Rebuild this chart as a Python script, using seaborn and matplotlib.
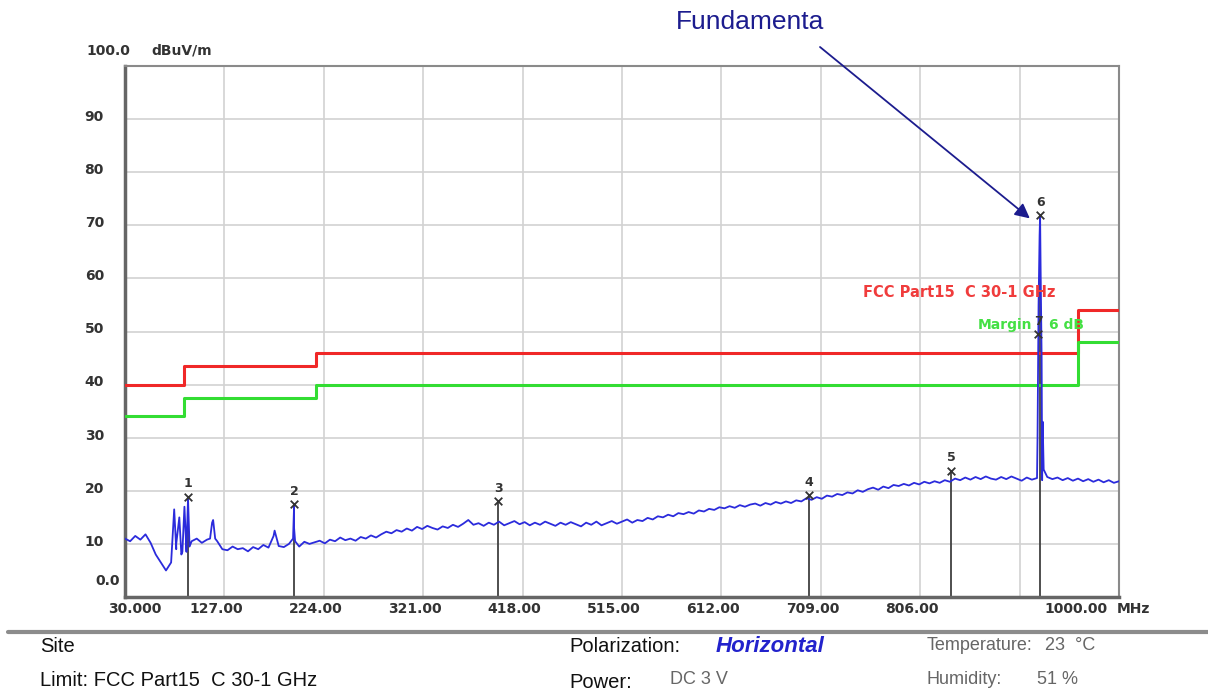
import numpy as np
import pandas as pd
import matplotlib
matplotlib.use("Agg")
import matplotlib.pyplot as plt
import seaborn as sns
from matplotlib.lines import Line2D

# ---------------- data ----------------
trace_freq = list(range(30, 1001, 5))
trace_level = [
    11.0, 10.5, 11.5, 10.8, 11.8, 10.2, 8.0, 6.5, 5.0, 6.5,
    9.0, 8.0, 8.5, 10.5, 11.0, 10.2, 10.8, 14.0, 10.5, 9.0,
    8.8, 9.5, 9.0, 9.2, 8.6, 9.4, 9.0, 9.8, 9.3, 11.5,
    9.6, 9.4, 10.0, 13.0, 9.5, 10.4, 10.0, 10.3, 10.6, 10.1,
    10.8, 10.5, 11.2, 10.7, 11.0, 10.6, 11.3, 11.0, 11.6, 11.2,
    11.8, 12.3, 12.0, 12.6, 12.3, 12.9, 12.5, 13.2, 12.8, 13.4,
    13.0, 12.7, 13.3, 13.0, 13.6, 13.2, 13.8, 14.5, 13.6, 13.9,
    13.4, 14.0, 13.6, 14.2, 13.5, 13.9, 14.3, 13.7, 14.1, 13.5,
    14.0, 13.6, 14.2, 13.8, 13.4, 14.0, 13.6, 14.1, 13.7, 13.3,
    14.0, 13.6, 14.2, 13.5, 13.9, 14.3, 13.8, 14.2, 14.6, 14.0,
    14.5, 14.3, 14.9, 14.6, 15.2, 15.0, 15.5, 15.2, 15.8, 15.6,
    16.0, 15.7, 16.3, 16.1, 16.6, 16.4, 16.9, 16.7, 17.1, 16.8,
    17.3, 17.0, 17.4, 17.6, 17.2, 17.7, 17.4, 17.9, 17.6, 18.0,
    17.7, 18.2, 18.0, 18.6, 18.3, 18.8, 18.5, 19.1, 18.9, 19.4,
    19.2, 19.7, 19.5, 20.1, 19.8, 20.3, 20.6, 20.2, 20.8, 20.5,
    21.1, 20.9, 21.3, 21.0, 21.5, 21.2, 21.7, 21.4, 21.8, 21.5,
    22.0, 21.7, 22.3, 22.0, 22.5, 22.1, 22.6, 22.2, 22.7, 22.3,
    22.1, 22.6, 22.2, 22.7, 22.3, 21.9, 22.5, 22.1, 22.4, 22.0,
    22.6, 22.2, 22.5, 22.0, 22.4, 21.9, 22.3, 21.8, 22.2, 21.7,
    22.1, 21.6, 22.0, 21.5, 21.8,
]
spike_freq = [78, 80, 83, 86, 88, 90, 91.5, 93, 113, 116, 118, 176, 194, 195, 196,
              920.5, 921.5, 922.5, 923, 923.5, 924.5, 925.5, 926.5]
spike_level = [16.5, 10.0, 15.0, 8.5, 17.0, 9.0, 18.5, 9.5, 11.0, 14.5, 11.0, 12.5, 11.0, 17.2, 10.5,
               30.0, 55.0, 68.0, 71.9, 62.0, 45.0, 33.0, 24.0]

limit_freq = [30, 88, 216, 960, 1000]
limit_level = [40, 43.5, 46, 54, 54]
margin_db = 6
margin_level = [v - margin_db for v in limit_level]

marker_id = ["1", "2", "3", "4", "5", "6", "7"]
marker_freq = [91.5, 195, 394, 697, 836, 923, 921]
marker_level = [18.9, 17.5, 18.1, 19.2, 23.8, 71.9, 49.5]

yticks = [10, 20, 30, 40, 50, 60, 70, 80, 90]
xticks = [127, 224, 321, 418, 515, 612, 709, 806, 903]
xlabels = ["30.000", "127.00", "224.00", "321.00", "418.00", "515.00",
           "612.00", "709.00", "806.00", "1000.00"]
xlabel_pos = [40, 119, 216, 313, 410, 507, 604, 701, 798, 958]

# ---------------- figure ----------------
sns.set_theme(style="white")
plt.rcParams['font.family'] = ['DejaVu Sans']

W, H = 1208, 695
fig = plt.figure(figsize=(W / 100, H / 100), dpi=100)
ax = fig.add_axes([125 / W, 1 - 597 / H, (1119 - 125) / W, (597 - 66) / H])

trace = pd.DataFrame({"freq": trace_freq + spike_freq, "level": trace_level + spike_level})
trace = trace.sort_values("freq").reset_index(drop=True)

limits = pd.DataFrame({"freq": limit_freq, "limit": limit_level, "margin": margin_level})

# grid
for x in xticks:
    ax.axvline(x, color="#d2d2d2", lw=1.2, zorder=0)
for y in yticks:
    ax.axhline(y, color="#d2d2d2", lw=1.2, zorder=0)

# limit lines
sns.lineplot(data=limits, x="freq", y="limit", ax=ax, color="#f02828", lw=2.2,
             drawstyle="steps-post", estimator=None, sort=False, zorder=3)
sns.lineplot(data=limits, x="freq", y="margin", ax=ax, color="#33dd33", lw=2.2,
             drawstyle="steps-post", estimator=None, sort=False, zorder=3)

# marker vertical lines
ax.vlines(marker_freq[:6], 0, marker_level[:6], color="#404040", lw=1.3, zorder=2)

# trace
sns.lineplot(data=trace, x="freq", y="level", ax=ax, color="#2b2bdc", lw=1.3,
             estimator=None, sort=False, zorder=4)

# markers
ax.scatter(marker_freq, marker_level, marker="x", s=30, color="#333333", lw=1.3, zorder=6)
for lab, f, lv in zip(marker_id, marker_freq, marker_level):
    ax.text(f, lv + 1.2, lab, ha="center", va="bottom", fontsize=9, color="#333333",
            fontweight="bold", zorder=6)

# limit labels
ax.text(750, 57.4, "FCC Part15  C 30-1 GHz", color="#f03c3c", fontsize=10.5,
        fontweight="bold", va="center", ha="left", zorder=5)
ax.text(862, 51.3, "Margin", color="#44e044", fontsize=10,
        fontweight="bold", va="center", ha="left", zorder=5)
ax.text(932, 51.3, "6 dB", color="#44e044", fontsize=10,
        fontweight="bold", va="center", ha="left", zorder=5)

ax.set_xlim(30, 1000)
ax.set_ylim(0, 100)
ax.set_xticks([])
ax.set_yticks([])
ax.set_xlabel("")
ax.set_ylabel("")
for s in ax.spines.values():
    s.set_color("#8a8a8a")
    s.set_linewidth(1.5)
ax.spines["left"].set_linewidth(2.5)
ax.spines["bottom"].set_linewidth(2.5)
ax.spines["left"].set_color("#666666")
ax.spines["bottom"].set_color("#666666")

# tick labels as text
tick_kw = dict(fontsize=10, fontweight="bold", color="#333333")
for y in yticks:
    ax.text(9.5, y + 0.4, str(y), ha="right", va="center", clip_on=False, **tick_kw)
ax.text(25, 3.0, "0.0", ha="right", va="center", clip_on=False, **tick_kw)
fig.text(108 / W, 1 - 51 / H, "100.0", ha="center", va="center", **tick_kw)
fig.text(182 / W, 1 - 51 / H, "dBuV/m", ha="center", va="center", **tick_kw)
for lab, xp in zip(xlabels, xlabel_pos):
    ax.text(xp, -2.3, lab, ha="center", va="center", clip_on=False, **tick_kw)
ax.text(1014.5, -2.3, "MHz", ha="center", va="center", clip_on=False, **tick_kw)

# annotation
navy = "#1c1c8e"
fig.text(750 / W, 1 - 22 / H, "Fundamenta", ha="center", va="center", color=navy,
         fontsize=19, family=["Liberation Sans", "DejaVu Sans"])
ax.annotate("", xy=(913, 71.3), xycoords="data",
            xytext=(820 / W, 1 - 47 / H), textcoords="figure fraction",
            arrowprops=dict(arrowstyle="-|>", color=navy, lw=1.3, mutation_scale=22,
                            shrinkA=0, shrinkB=0), zorder=7)

# footer
fig.add_artist(Line2D([8 / W, 1.0], [1 - 632 / H] * 2, color="#8c8c8c", lw=3))
foot = dict(fontsize=14.5, family=["Liberation Sans", "DejaVu Sans"], va="center", ha="left")
fig.text(40 / W, 1 - 647 / H, "Site", color="#111111", **foot)
fig.text(40 / W, 1 - 681 / H, "Limit: FCC Part15  C 30-1 GHz", color="#111111", **foot)
fig.text(569 / W, 1 - 647 / H, "Polarization:", color="#111111", **foot)
fig.text(716 / W, 1 - 647 / H, "Horizontal", color="#2222cc", fontweight="bold",
         style="italic", **dict(foot, fontsize=16))
fig.text(569 / W, 1 - 682 / H, "Power:", color="#111111", **foot)
small = dict(foot, fontsize=13)
fig.text(670 / W, 1 - 679 / H, "DC 3 V", color="#666666", **small)
fig.text(927 / W, 1 - 646 / H, "Temperature:", color="#666666", **small)
fig.text(1045 / W, 1 - 646 / H, "23  °C", color="#666666", **small)
fig.text(927 / W, 1 - 680 / H, "Humidity:", color="#666666", **small)
fig.text(1037 / W, 1 - 680 / H, "51 %", color="#666666", **small)

fig.savefig("out.png", dpi=100, facecolor="white")
